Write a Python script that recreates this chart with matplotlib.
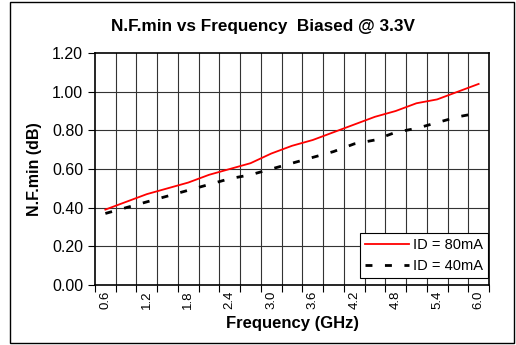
import matplotlib
matplotlib.use("Agg")
import matplotlib.pyplot as plt
from matplotlib.patches import Rectangle
import numpy as np

plt.rcParams['font.family'] = ['Liberation Sans', 'DejaVu Sans']

freqs = ["0.6", "0.9", "1.2", "1.5", "1.8", "2.1", "2.4", "2.7", "3.0", "3.3",
         "3.6", "3.9", "4.2", "4.5", "4.8", "5.1", "5.4", "5.7", "6.0"]
nf_80mA = [0.39, 0.43, 0.47, 0.50, 0.53, 0.57, 0.60, 0.63, 0.68, 0.72,
           0.75, 0.79, 0.83, 0.87, 0.90, 0.94, 0.96, 1.00, 1.04]
nf_40mA = [0.37, 0.40, 0.43, 0.46, 0.49, 0.52, 0.55, 0.57, 0.60, 0.63,
           0.66, 0.69, 0.73, 0.75, 0.79, 0.81, 0.84, 0.87, 0.89]
yticks = [0.0, 0.2, 0.4, 0.6, 0.8, 1.0, 1.2]

W, H = 516, 345
fig = plt.figure(figsize=(W / 100, H / 100), dpi=100)
fig.patch.set_facecolor('white')

# outer chart border
fig.patches.append(Rectangle((10 / W, 1 - 343 / H), (514 - 10) / W, (343 - 2) / H,
                             transform=fig.transFigure, fill=False,
                             edgecolor='black', linewidth=1.0))

ax = fig.add_axes([95 / W, 1 - 285 / H, (489 - 95) / W, (285 - 53) / H])
x = np.arange(len(freqs))

ax.plot(x, nf_80mA, color='#ff0000', linewidth=1.3, label='ID = 80mA', zorder=3)
ax.plot(x, nf_40mA, color='black', linewidth=2.0, linestyle=(0, (2.5, 4.5)),
        label='ID = 40mA', zorder=3)

ax.set_xlim(-0.5, len(freqs) - 0.5)
ax.set_ylim(0, 1.2)

# category boundaries as gridlines / ticks
bounds = np.arange(len(freqs) + 1) - 0.5
ax.set_xticks(bounds)
ax.set_xticklabels([])
ax.set_xticks(x[::2], minor=True)
ax.set_xticklabels([freqs[i] for i in x[::2]], minor=True, rotation=90, fontsize=9.5)
ax.tick_params(axis='x', which='minor', length=0, pad=4)
ax.tick_params(axis='x', which='major', length=5, direction='out', width=0.8)

ax.set_yticks(yticks)
ax.set_yticklabels([f"{v:.2f}" for v in yticks], fontsize=11.5)
ax.tick_params(axis='y', length=5, direction='out', width=0.8)

for b in bounds[1:-1]:
    ax.axvline(b, color='#333333', linewidth=0.8, zorder=1)
for v in yticks[1:-1]:
    ax.axhline(v, color='#333333', linewidth=0.8, zorder=1)

for s in ax.spines.values():
    s.set_linewidth(1.2)
    s.set_color('black')

ax.set_xlabel('Frequency (GHz)', fontsize=12, fontweight='bold', labelpad=5)
ax.set_ylabel('N.F.min (dB)', fontsize=11.5, fontweight='bold', labelpad=7)

fig.text(263 / W, 1 - 27 / H, 'N.F.min vs Frequency  Biased @ 3.3V',
         ha='center', va='center', fontsize=12.3, fontweight='bold')

leg = ax.legend(loc='lower right', bbox_to_anchor=(1 - 1 / 394, 7 / 232), fontsize=10.5,
                frameon=True, fancybox=False, edgecolor='black', framealpha=1,
                handlelength=3.0, handletextpad=0.3, borderpad=0.35,
                labelspacing=0.45, borderaxespad=0.0)
leg.get_frame().set_linewidth(0.8)
leg.set_zorder(5)

fig.savefig('out.png', dpi=100)
